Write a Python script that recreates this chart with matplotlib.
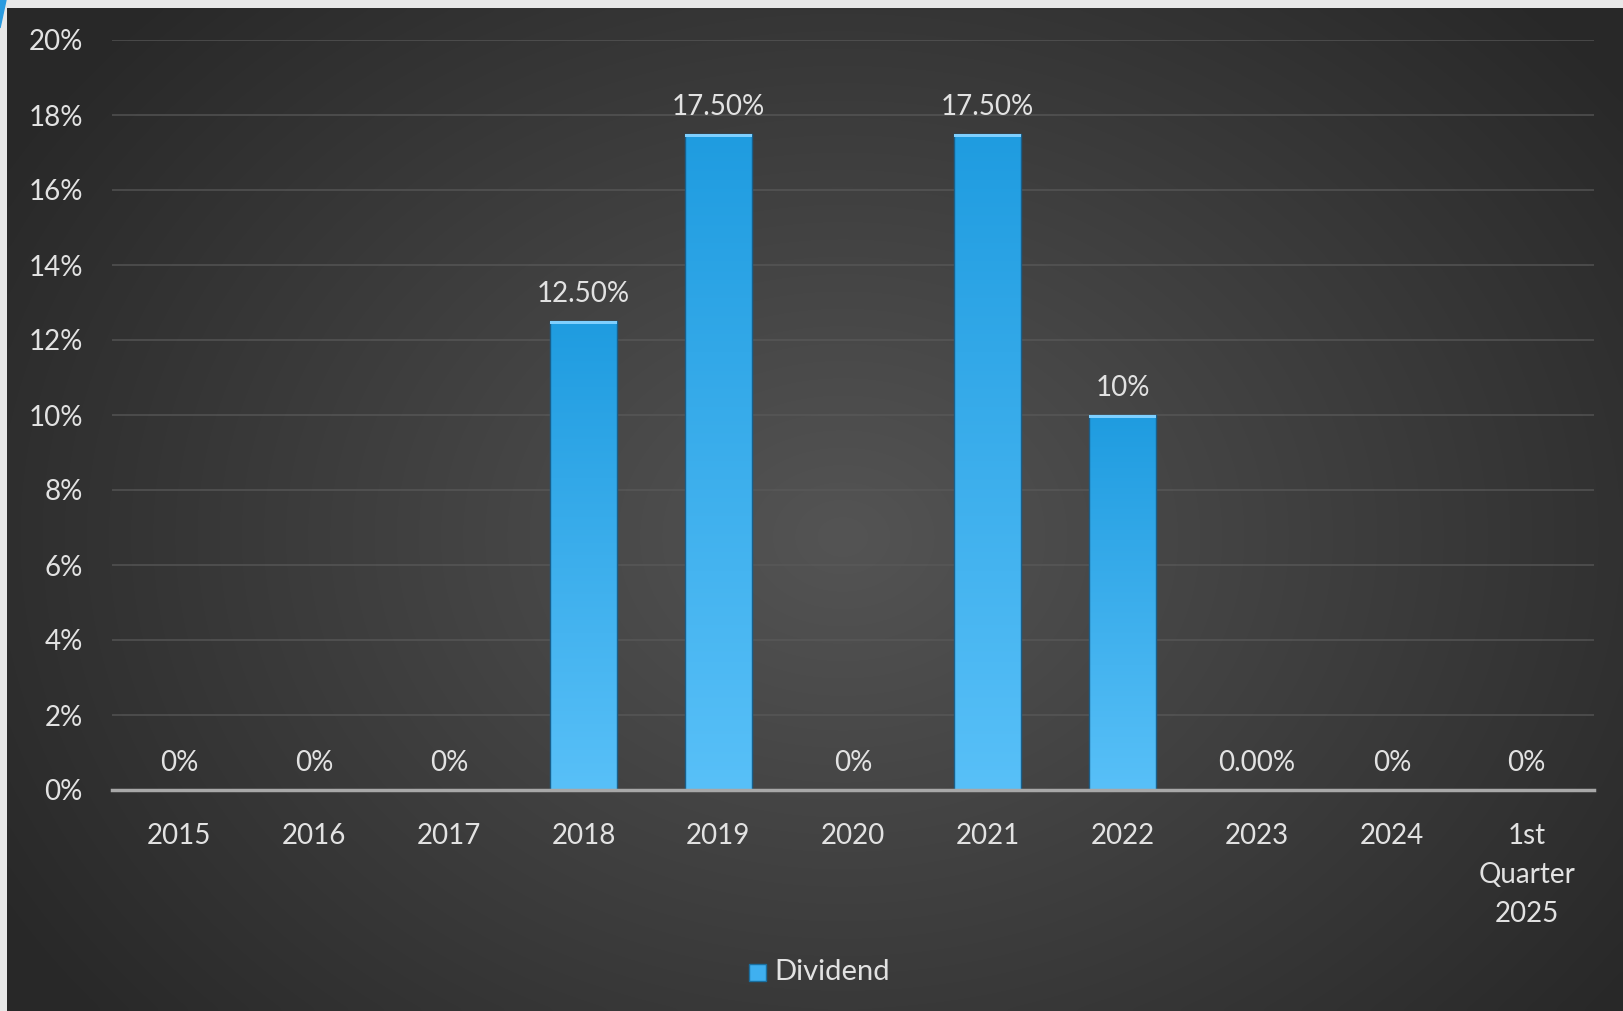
import numpy as np
import matplotlib.pyplot as plt
from matplotlib.patches import Polygon, Rectangle
from matplotlib.ticker import FuncFormatter

years = ["2015", "2016", "2017", "2018", "2019", "2020", "2021", "2022", "2023", "2024", "1st\nQuarter\n2025"]
dividend = [0, 0, 0, 12.5, 17.5, 0, 17.5, 10, 0, 0, 0]
value_labels = ["0%", "0%", "0%", "12.50%", "17.50%", "0%", "17.50%", "10%", "0.00%", "0%", "0%"]

plt.rcParams['font.family'] = ['Lato', 'DejaVu Sans']
txt = "#e2e2e2"

W, H = 1623, 1011
fig = plt.figure(figsize=(W / 100, H / 100), dpi=100)
fig.patch.set_facecolor("#e8e8e8")

# background panel with radial gradient
bg = fig.add_axes([7 / W, 0, 1 - 7 / W, 1 - 8 / H])
bg.set_axis_off()
yy, xx = np.mgrid[0:200, 0:320]
r = np.sqrt(((xx - 165) / 190.0) ** 2 + ((yy - 105) / 150.0) ** 2)
r = np.clip(r, 0, 1)
shade = 0.33 - 0.17 * r
img = np.dstack([shade, shade, shade])
bg.imshow(img, aspect="auto", extent=[0, 1, 0, 1], interpolation="bicubic")
bg.set_xlim(0, 1)
bg.set_ylim(0, 1)

# blue corner accent
fig.patches.append(Polygon([[0, 1], [6 / W, 1], [0, 1 - 28 / H]], closed=True,
                           transform=fig.transFigure, color="#2a9be0", zorder=5))

ax = fig.add_axes([112 / W, 1 - 790 / H, (1594 - 112) / W, (790 - 40) / H])
ax.patch.set_alpha(0)
x = np.arange(len(years))
bars = ax.bar(x, dividend, width=0.5, color="none", edgecolor="#1a5f8a", linewidth=1, zorder=3)

grad = np.linspace(0, 1, 256).reshape(-1, 1)
top = np.array([0x1f, 0x9c, 0xe0]) / 255
bot = np.array([0x58, 0xc0, 0xf8]) / 255
cols = top[None, None, :] * (1 - grad[:, :, None]) + bot[None, None, :] * grad[:, :, None]
for b, v in zip(bars, dividend):
    if v <= 0:
        continue
    x0 = b.get_x()
    w = b.get_width()
    im = ax.imshow(cols, aspect="auto", extent=[x0, x0 + w, 0, v], zorder=2)
    im.set_clip_path(b)
    ax.add_patch(Rectangle((x0, v - 0.08), w, 0.08, color="#7fd0ff", zorder=4, lw=0))

for xi, v, lab in zip(x, dividend, value_labels):
    ax.annotate(lab, (xi, v), xytext=(0, 10), textcoords="offset points",
                ha="center", va="bottom", color=txt, fontsize=20)

ax.set_xlim(-0.5, len(years) - 0.5)
ax.set_ylim(0, 20)
ax.set_yticks(np.arange(0, 21, 2))
ax.yaxis.set_major_formatter(FuncFormatter(lambda v, p: f"{v:.0f}%"))
ax.set_xticks(x)
ax.set_xticklabels(years, linespacing=1.62)
ax.tick_params(axis="both", length=0, colors=txt, labelsize=20)
ax.tick_params(axis="x", pad=24)
ax.tick_params(axis="y", pad=21)
for lab in ax.get_xticklabels():
    lab.set_verticalalignment("top")
ax.grid(axis="y", color="#5a5a5a", linewidth=1.3, alpha=0.7, zorder=0)
for s in ["top", "right", "left"]:
    ax.spines[s].set_visible(False)
ax.spines["bottom"].set_color("#a8a8a8")
ax.spines["bottom"].set_linewidth(2.5)
ax.spines["bottom"].set_zorder(5)

# legend
fig.patches.append(Rectangle((749 / W, 1 - 981 / H), 17 / W, 17 / H, transform=fig.transFigure,
                             facecolor="#3fb0f0", edgecolor="#1a6fa0", lw=1, zorder=5))
fig.text(774 / W, 1 - 972 / H, "Dividend", color=txt, fontsize=21, va="center", ha="left")

fig.savefig("out.png", dpi=100, facecolor=fig.get_facecolor())
